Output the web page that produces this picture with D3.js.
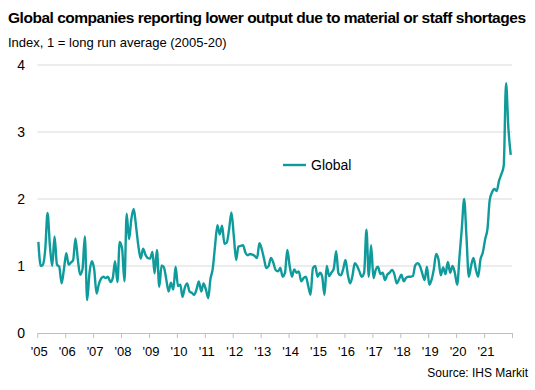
<!DOCTYPE html>
<html><head><meta charset="utf-8">
<script src="https://cdn.jsdelivr.net/npm/d3@7"></script>
<style>body{margin:0;background:#fff}svg{display:block}text{font-family:"Liberation Sans",Arial,sans-serif}</style>
</head><body><svg id="c" width="535" height="390"></svg>
<script>
const titleText = "Global companies reporting lower output due to material or staff shortages";
const subtitleText = "Index, 1 = long run average (2005-20)";
const sourceText = "Source: IHS Markit";
const seriesName = "Global";
const startYear = 2005, startMonth = 0; // Jan 2005, monthly
const yTicks = [0, 1, 2, 3, 4];
const yearTicks = [2005,2006,2007,2008,2009,2010,2011,2012,2013,2014,2015,2016,2017,2018,2019,2020,2021,2022];
const yearLabels = ["'05","'06","'07","'08","'09","'10","'11","'12","'13","'14","'15","'16","'17","'18","'19","'20","'21"];
const values = [
 // 2005
 1.36,1.00,1.02,1.25,1.79,1.30,1.00,1.44,1.02,0.99,0.74,0.95,
 // 2006
 1.19,1.02,1.05,1.09,1.41,1.10,0.87,0.95,1.44,0.49,0.90,1.07,
 // 2007
 0.95,0.59,0.72,0.81,0.84,0.82,0.84,0.76,0.82,1.07,0.76,1.36,
 // 2008
 1.26,0.77,1.78,1.40,1.70,1.85,1.60,1.30,1.11,1.26,1.17,1.12,
 // 2009
 1.11,1.21,0.89,1.24,0.69,1.01,0.98,0.80,0.62,0.75,0.65,0.99,
 // 2010
 0.70,0.72,0.54,0.68,0.74,0.62,0.60,0.57,0.65,0.77,0.62,0.74,
 // 2011
 0.65,0.52,0.80,0.96,1.30,1.61,1.47,1.60,1.33,1.35,1.55,1.80,
 // 2012
 1.45,1.09,1.29,1.30,1.31,1.20,1.16,1.18,1.17,1.15,1.12,1.34,
 // 2013
 1.25,1.10,0.97,1.00,1.12,1.05,0.94,0.92,0.97,0.84,0.90,1.24,
 // 2014
 1.00,0.84,0.95,0.90,0.92,0.77,0.82,0.84,0.70,0.57,0.97,1.00,
 // 2015
 0.84,0.90,0.85,0.57,1.00,0.85,0.90,0.96,1.22,0.89,0.86,0.95,
 // 2016
 1.09,0.87,0.74,0.85,1.04,1.00,0.92,0.84,0.90,1.54,0.84,1.31,
 // 2017
 0.82,0.95,0.99,0.88,0.90,0.79,0.87,0.90,0.94,0.88,0.74,0.80,
 // 2018
 0.87,0.77,0.82,0.84,0.84,0.85,1.01,1.04,1.00,0.89,0.79,0.99,
 // 2019
 0.72,0.80,0.95,1.18,1.10,0.86,0.98,0.88,1.06,0.90,1.00,0.90,
 // 2020
 0.72,1.15,1.55,2.00,1.45,0.84,1.00,1.12,0.95,0.84,1.10,1.20,
 // 2021
 1.40,1.56,1.98,2.10,2.15,2.12,2.27,2.37,2.50,3.73,3.05,2.66
];

const data = values.map((v, i) => ({date: new Date(startYear, startMonth + i, 15), v}));
const svg = d3.select("#c");
const color = "#0f9b9b";

const x = d3.scaleTime().domain([new Date(2005,0,1), new Date(2022,0,1)]).range([37.3, 512]);
const y = d3.scaleLinear().domain([0, 4]).range([333, 65]);

// gridlines
svg.append("g").selectAll("line").data(yTicks.filter(d => d > 0)).join("line")
  .attr("x1", 37.3).attr("x2", 512).attr("y1", d => y(d)).attr("y2", d => y(d))
  .attr("stroke", "#d9d9d9").attr("stroke-width", 1);

// y labels
svg.append("g").selectAll("text").data(yTicks).join("text")
  .attr("x", 25).attr("y", d => y(d)).attr("dy", "0.35em")
  .attr("text-anchor", "end").attr("font-size", 14).attr("fill", "#000").text(d => d);

// x axis
const xAxis = d3.axisBottom(x).tickValues(yearTicks.map(yr => new Date(yr,0,1)))
  .tickSize(5).tickSizeOuter(0).tickFormat("");
const gx = svg.append("g").attr("transform", "translate(0,333)").call(xAxis);
gx.select(".domain").attr("stroke", "#bfbfbf");
gx.selectAll(".tick line").attr("stroke", "#bfbfbf");

svg.append("g").selectAll("text").data(yearLabels).join("text")
  .attr("x", (d, i) => x(new Date(yearTicks[i],0,1)) + 2)
  .attr("y", 356).attr("text-anchor", "middle").attr("font-size", 13).attr("fill", "#000")
  .text(d => d);

// line
const line = d3.line().x(d => x(d.date)).y(d => y(d.v)).curve(d3.curveMonotoneX);
svg.append("path").datum(data).attr("d", line).attr("fill", "none")
  .attr("stroke", color).attr("stroke-width", 2.4).attr("stroke-linejoin", "round");

// legend
svg.append("line").attr("x1", 283).attr("x2", 306).attr("y1", 165).attr("y2", 165)
  .attr("stroke", color).attr("stroke-width", 2.4);
svg.append("text").attr("x", 311).attr("y", 165).attr("dy", "0.35em")
  .attr("font-size", 14).attr("fill", "#000").text(seriesName);

// titles
svg.append("text").attr("x", 8).attr("y", 23).attr("font-size", 15.5).attr("font-weight", "bold")
  .attr("fill", "#000").attr("textLength", 518).attr("lengthAdjust", "spacing").text(titleText);
svg.append("text").attr("x", 8).attr("y", 47).attr("font-size", 13).attr("fill", "#000").text(subtitleText);
svg.append("text").attr("x", 528).attr("y", 377).attr("text-anchor", "end")
  .attr("font-size", 12).attr("fill", "#000").text(sourceText);
</script></body></html>
